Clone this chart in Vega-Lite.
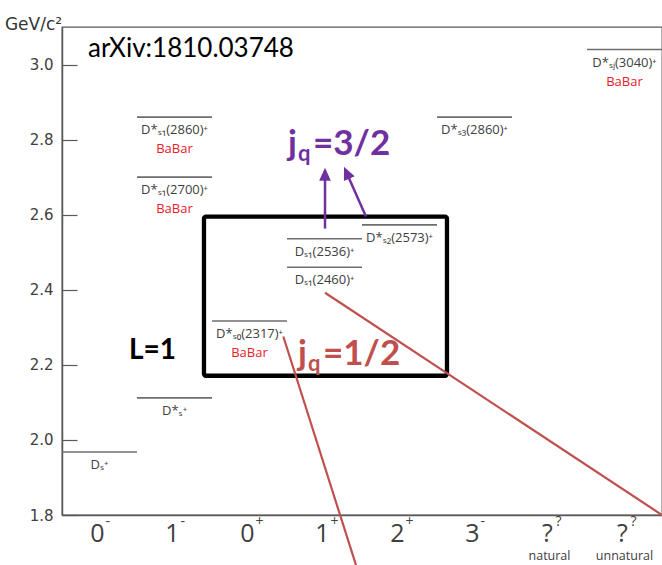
{
  "$schema": "https://vega.github.io/schema/vega-lite/v6.json",
  "width": 600,
  "height": 488,
  "autosize": {"type": "none"},
  "padding": {"left": 62, "top": 27, "right": 0, "bottom": 50},
  "background": "white",
  "config": {
    "view": {"stroke": "#595959", "strokeWidth": 1.3},
    "axis": {"grid": false}
  },
  "datasets": {
    "levels": [
      {"jp": 0, "mass": 1.968, "name": "Dₛ⁺", "exp": ""},
      {"jp": 1, "mass": 2.112, "name": "D*ₛ⁺", "exp": ""},
      {"jp": 2, "mass": 2.317, "name": "D*ₛ₀(2317)⁺", "exp": "BaBar"},
      {"jp": 3, "mass": 2.460, "name": "Dₛ₁(2460)⁺", "exp": ""},
      {"jp": 3, "mass": 2.536, "name": "Dₛ₁(2536)⁺", "exp": ""},
      {"jp": 4, "mass": 2.573, "name": "D*ₛ₂(2573)⁺", "exp": ""},
      {"jp": 1, "mass": 2.700, "name": "D*ₛ₁(2700)⁺", "exp": "BaBar"},
      {"jp": 1, "mass": 2.860, "name": "D*ₛ₁(2860)⁺", "exp": "BaBar"},
      {"jp": 5, "mass": 2.860, "name": "D*ₛ₃(2860)⁺", "exp": ""},
      {"jp": 7, "mass": 3.040, "name": "D*ₛⱼ(3040)⁺", "exp": "BaBar"}
    ],
    "spins": [
      {"pos": 0.5, "main": "0", "sup": "-", "note": ""},
      {"pos": 1.5, "main": "1", "sup": "-", "note": ""},
      {"pos": 2.5, "main": "0", "sup": "+", "note": ""},
      {"pos": 3.5, "main": "1", "sup": "+", "note": ""},
      {"pos": 4.5, "main": "2", "sup": "+", "note": ""},
      {"pos": 5.5, "main": "3", "sup": "-", "note": ""},
      {"pos": 6.5, "main": "?", "sup": "?", "note": "natural"},
      {"pos": 7.5, "main": "?", "sup": "?", "note": "unnatural"}
    ],
    "box": [{"x0": 1.893, "x1": 5.133, "y0": 2.171, "y1": 2.595}],
    "links": [
      {"x": 3.507, "y": 2.392, "x2": 8.0, "y2": 1.8},
      {"x": 2.951, "y": 2.2755, "x2": 3.92, "y2": 1.6667}
    ],
    "arrows": [
      {"x": 3.507, "y": 2.563, "x2": 3.507, "y2": 2.715},
      {"x": 4.053, "y": 2.595, "x2": 3.781, "y2": 2.718}
    ],
    "jq": [
      {"label": "1/2", "x": 3.147, "y": 2.2, "lead": "j", "sub": "q", "rest": "=1/2"},
      {"label": "3/2", "x": 3.013, "y": 2.76, "lead": "j", "sub": "q", "rest": "=3/2"}
    ]
  },
  "layer": [
    {
      "data": {"name": "levels"},
      "transform": [{"calculate": "datum.jp + 1", "as": "jpEnd"}],
      "mark": {"type": "rule", "color": "#6e6e6e", "strokeWidth": 1.6},
      "encoding": {
        "x": {
          "field": "jp", "type": "quantitative",
          "scale": {"domain": [0, 8], "nice": false, "zero": false},
          "axis": {"title": null, "labels": false, "ticks": false, "domainColor": "#595959", "domainWidth": 1.5}
        },
        "x2": {"field": "jpEnd"},
        "y": {
          "field": "mass", "type": "quantitative",
          "scale": {"domain": [1.8, 3.1], "nice": false, "zero": false},
          "axis": {
            "values": [1.8, 2.0, 2.2, 2.4, 2.6, 2.8, 3.0],
            "format": ".1f",
            "tickSize": -15,
            "tickColor": "#595959",
            "tickWidth": 1.2,
            "labelPadding": 24,
            "labelFont": "DejaVu Sans",
            "labelFontSize": 15,
            "labelColor": "#404040",
            "domainColor": "#595959",
            "domainWidth": 1.5,
            "title": "GeV/c²",
            "titleAngle": 0,
            "titleFont": "DejaVu Sans",
            "titleFontSize": 17,
            "titleFontWeight": "normal",
            "titleColor": "#333333",
            "titleAlign": "center",
            "titleBaseline": "alphabetic",
            "titleX": -29,
            "titleY": 2
          }
        }
      }
    },
    {
      "data": {"name": "levels"},
      "transform": [{"calculate": "datum.jp + 0.5", "as": "mid"}],
      "mark": {"type": "text", "font": "Open Sans", "fontSize": 13, "color": "#404040", "baseline": "middle", "align": "center", "dy": 13},
      "encoding": {
        "x": {"field": "mid", "type": "quantitative"},
        "y": {"field": "mass", "type": "quantitative"},
        "text": {"field": "name"}
      }
    },
    {
      "data": {"name": "levels"},
      "transform": [{"filter": "datum.exp == 'BaBar'"}, {"calculate": "datum.jp + 0.5", "as": "mid"}],
      "mark": {"type": "text", "font": "Open Sans", "fontSize": 13, "color": "#E8202A", "baseline": "middle", "align": "center", "dy": 32},
      "encoding": {
        "x": {"field": "mid", "type": "quantitative"},
        "y": {"field": "mass", "type": "quantitative"},
        "text": {"field": "exp"}
      }
    },
    {
      "data": {"name": "spins"},
      "mark": {"type": "text", "font": "Open Sans", "fontSize": 25, "color": "#404040", "baseline": "middle", "align": "center", "dy": 19, "dx": -2},
      "encoding": {
        "x": {"field": "pos", "type": "quantitative"},
        "y": {"datum": 1.8, "type": "quantitative"},
        "text": {"field": "main"}
      }
    },
    {
      "data": {"name": "spins"},
      "mark": {"type": "text", "font": "Open Sans", "fontSize": 14, "color": "#404040", "baseline": "middle", "align": "left", "dy": 7, "dx": 6},
      "encoding": {
        "x": {"field": "pos", "type": "quantitative"},
        "y": {"datum": 1.8, "type": "quantitative"},
        "text": {"field": "sup"}
      }
    },
    {
      "data": {"name": "spins"},
      "mark": {"type": "text", "font": "Open Sans", "fontSize": 12.5, "color": "#404040", "baseline": "middle", "align": "center", "dy": 41},
      "encoding": {
        "x": {"field": "pos", "type": "quantitative"},
        "y": {"datum": 1.8, "type": "quantitative"},
        "text": {"field": "note"}
      }
    },
    {
      "data": {"name": "box"},
      "mark": {"type": "rect", "filled": false, "stroke": "black", "strokeWidth": 4.3, "cornerRadius": 2},
      "encoding": {
        "x": {"field": "x0", "type": "quantitative"},
        "x2": {"field": "x1"},
        "y": {"field": "y0", "type": "quantitative"},
        "y2": {"field": "y1"}
      }
    },
    {
      "data": {"name": "links"},
      "mark": {"type": "rule", "color": "#C0504D", "strokeWidth": 2.2},
      "encoding": {
        "x": {"field": "x", "type": "quantitative"},
        "y": {"field": "y", "type": "quantitative"},
        "x2": {"field": "x2"},
        "y2": {"field": "y2"}
      }
    },
    {
      "data": {"name": "arrows"},
      "mark": {"type": "rule", "color": "#7030A0", "strokeWidth": 2.5},
      "encoding": {
        "x": {"field": "x", "type": "quantitative"},
        "y": {"field": "y", "type": "quantitative"},
        "x2": {"field": "x2"},
        "y2": {"field": "y2"}
      }
    },
    {
      "data": {"values": [{"x": 3.507, "y": 2.725}]},
      "mark": {"type": "point", "shape": "M0,0L-0.45,1L0.45,1Z", "size": 676, "filled": true, "color": "#7030A0", "opacity": 1, "angle": 0},
      "encoding": {
        "x": {"field": "x", "type": "quantitative"},
        "y": {"field": "y", "type": "quantitative"}
      }
    },
    {
      "data": {"values": [{"x": 3.76, "y": 2.728}]},
      "mark": {"type": "point", "shape": "M0,0L-0.45,1L0.45,1Z", "size": 676, "filled": true, "color": "#7030A0", "opacity": 1, "angle": 336},
      "encoding": {
        "x": {"field": "x", "type": "quantitative"},
        "y": {"field": "y", "type": "quantitative"}
      }
    },
    {
      "data": {"name": "jq"},
      "mark": {"type": "text", "font": "Lato", "fontWeight": "bold", "fontSize": 35, "align": "left", "baseline": "alphabetic"},
      "encoding": {
        "x": {"field": "x", "type": "quantitative"},
        "y": {"field": "y", "type": "quantitative"},
        "text": {"field": "lead"},
        "color": {"field": "label", "type": "nominal", "scale": {"domain": ["1/2", "3/2"], "range": ["#C0504D", "#7030A0"]}, "legend": null}
      }
    },
    {
      "data": {"name": "jq"},
      "mark": {"type": "text", "font": "Lato", "fontWeight": "bold", "fontSize": 22, "align": "left", "baseline": "alphabetic", "dx": 10, "dy": 6},
      "encoding": {
        "x": {"field": "x", "type": "quantitative"},
        "y": {"field": "y", "type": "quantitative"},
        "text": {"field": "sub"},
        "color": {"field": "label", "type": "nominal", "legend": null}
      }
    },
    {
      "data": {"name": "jq"},
      "mark": {"type": "text", "font": "Lato", "fontWeight": "bold", "fontSize": 35, "align": "left", "baseline": "alphabetic", "dx": 25},
      "encoding": {
        "x": {"field": "x", "type": "quantitative"},
        "y": {"field": "y", "type": "quantitative"},
        "text": {"field": "rest"},
        "color": {"field": "label", "type": "nominal", "legend": null}
      }
    },
    {
      "data": {"values": [{"x": 0.347, "y": 3.019, "text": "arXiv:1810.03748"}]},
      "mark": {"type": "text", "font": "Lato", "fontSize": 26, "color": "black", "align": "left", "baseline": "alphabetic"},
      "encoding": {
        "x": {"field": "x", "type": "quantitative"},
        "y": {"field": "y", "type": "quantitative"},
        "text": {"field": "text"}
      }
    },
    {
      "data": {"values": [{"x": 1.207, "y": 2.237, "text": "L=1"}]},
      "mark": {"type": "text", "font": "Lato", "fontWeight": "bold", "fontSize": 28, "color": "black", "align": "center", "baseline": "middle"},
      "encoding": {
        "x": {"field": "x", "type": "quantitative"},
        "y": {"field": "y", "type": "quantitative"},
        "text": {"field": "text"}
      }
    }
  ]
}
